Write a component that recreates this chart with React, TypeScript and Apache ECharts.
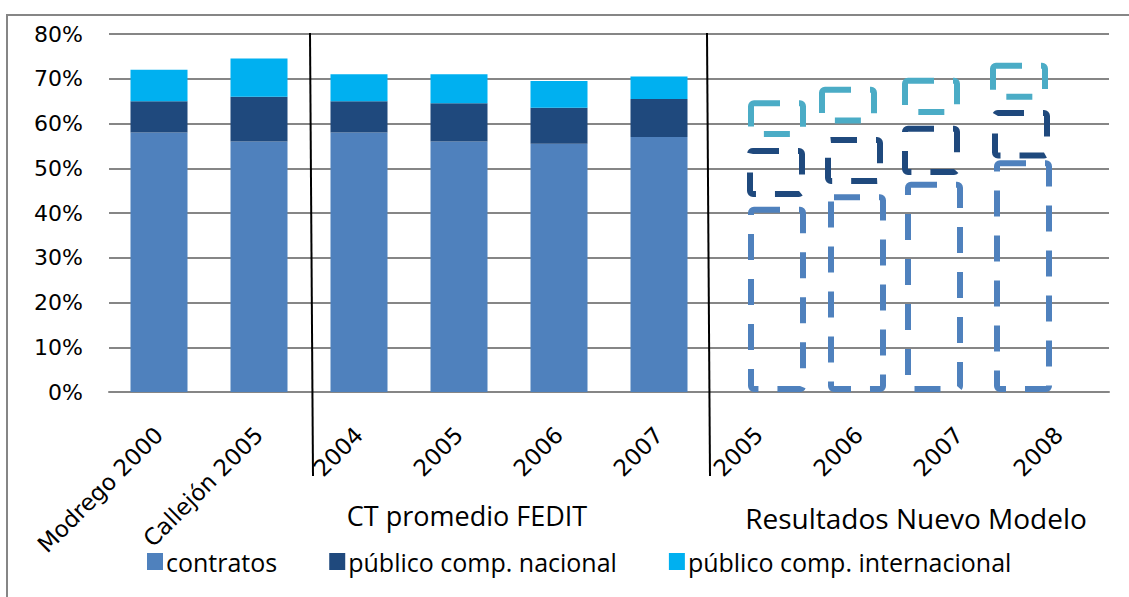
import React, { useEffect, useRef } from "react";
import * as echarts from "echarts";

const categories = [
  "Modrego 2000",
  "Callejón 2005",
  "2004",
  "2005",
  "2006",
  "2007",
  "2005",
  "2006",
  "2007",
  "2008",
];
const seriesNames = ["contratos", "público comp. nacional", "público comp. internacional"];
const contratos = [58, 56, 58, 56, 55.5, 57];
const nacional = [7, 10, 7, 8.5, 8, 8.5];
const internacional = [7, 8.5, 6, 6.5, 6, 5];

// "Resultados Nuevo Modelo" (dashed boxes): category index, bottom %, top %
const nmIndex = [6, 7, 8, 9];
const nmContratosTop = [41.4, 44.2, 47.0, 51.8];
const nmNacionalBottom = [43.6, 46.5, 48.5, 52.2];
const nmNacionalTop = [54.5, 57.0, 59.5, 63.0];
const nmInterBottom = [57.0, 60.0, 61.9, 65.3];
const nmInterTop = [65.2, 68.2, 70.2, 73.6];

const groupLabels = ["CT promedio FEDIT", "Resultados Nuevo Modelo"];

const C_CONTR = "#4F81BD";
const C_NAC = "#1F497D";
const C_INT = "#00B0F0";
const C_INT_DASH = "#4BACC6";
const GRID = "#868686";

// horizontal shift of each hand-drawn dashed box, in fractions of a category band
const shiftContr = [0.18, -0.02, -0.25, -0.36];
const shiftNac = [0.17, -0.05, -0.28, -0.38];
const shiftInt = [0.18, -0.11, -0.28, -0.4];

function dashedSeries(name: string, lows: number[], highs: number[], color: string, shifts: number[]) {
  const data = nmIndex.map((ix, i) => [ix, lows[i], highs[i]]);
  return {
    type: "custom",
    name,
    data,
    z: 5,
    renderItem: (params: any, api: any) => {
      const ix = api.value(0);
      const lo = api.value(1);
      const hi = api.value(2);
      const band = api.size([1, 0])[0];
      const pLo = api.coord([ix, lo]);
      const pHi = api.coord([ix, hi]);
      const lw = 6;
      const w = band * 0.58;
      const cx = pLo[0] + shifts[params.dataIndex] * band;
      return {
        type: "rect",
        shape: {
          x: cx - w / 2 + lw / 2,
          y: pHi[1] + lw / 2,
          width: w - lw,
          height: pLo[1] - pHi[1] - lw,
          r: 3,
        },
        style: {
          fill: "transparent",
          stroke: color,
          lineWidth: lw,
          lineDash: [26, 19],
          lineJoin: "round",
        },
      };
    },
  };
}

export default function App() {
  const ref = useRef<HTMLDivElement>(null);
  useEffect(() => {
    if (!ref.current) return;
    const chart = echarts.init(ref.current, null, { renderer: "svg" });
    const option: any = {
      animation: false,
      backgroundColor: "#ffffff",
      grid: { left: 109, right: 20, top: 34, bottom: 205, containLabel: false },
      legend: {
        data: seriesNames,
        left: 142,
        top: 544,
        icon: "rect",
        itemWidth: 16,
        itemHeight: 17,
        itemGap: 52,
        textStyle: { fontFamily: "Open Sans", fontSize: 25, color: "#000", padding: [0, 0, 0, -2] },
      },
      xAxis: {
        type: "category",
        data: categories,
        axisTick: { show: false },
        axisLine: { show: true, lineStyle: { color: GRID, width: 2 } },
        axisLabel: {
          interval: 0,
          rotate: 45,
          margin: 39,
          fontFamily: "DejaVu Sans",
          fontSize: 23,
          color: "#000",
        },
      },
      yAxis: {
        type: "value",
        min: 0,
        max: 80,
        interval: 10,
        axisLine: { show: false },
        axisTick: { show: false },
        splitLine: { lineStyle: { color: GRID, width: 2 } },
        axisLabel: {
          formatter: "{value}%",
          margin: 26,
          fontFamily: "DejaVu Sans",
          fontSize: 22,
          color: "#000",
        },
      },
      series: [
        { type: "bar", name: seriesNames[0], stack: "t", data: contratos, barWidth: "57%", itemStyle: { color: C_CONTR } },
        { type: "bar", name: seriesNames[1], stack: "t", data: nacional, itemStyle: { color: C_NAC } },
        { type: "bar", name: seriesNames[2], stack: "t", data: internacional, itemStyle: { color: C_INT } },
        dashedSeries("nm contratos", nmIndex.map(() => 0), nmContratosTop, C_CONTR, shiftContr),
        dashedSeries("nm nacional", nmNacionalBottom, nmNacionalTop, C_NAC, shiftNac),
        dashedSeries("nm internacional", nmInterBottom, nmInterTop, C_INT_DASH, shiftInt),
      ],
      graphic: [
        {
          type: "rect",
          shape: { x: 7, y: 15, width: 1300, height: 800 },
          style: { fill: "transparent", stroke: GRID, lineWidth: 2 },
          silent: true,
        },
        {
          type: "line",
          shape: { x1: 310, y1: 33, x2: 313, y2: 476 },
          style: { stroke: "#000", lineWidth: 2 },
          z: 10,
        },
        {
          type: "line",
          shape: { x1: 707, y1: 33, x2: 710, y2: 476 },
          style: { stroke: "#000", lineWidth: 2 },
          z: 10,
        },
        {
          type: "text",
          x: 467,
          y: 515,
          style: {
            text: groupLabels[0],
            fontFamily: "Open Sans",
            fontSize: 27,
            fill: "#000",
            align: "center",
            verticalAlign: "middle",
          },
        },
        {
          type: "text",
          x: 916,
          y: 518,
          style: {
            text: groupLabels[1],
            fontFamily: "Open Sans",
            fontSize: 28,
            fill: "#000",
            align: "center",
            verticalAlign: "middle",
          },
        },
      ],
    };
    chart.setOption(option);
    return () => chart.dispose();
  }, []);
  return (
    <div
      ref={ref}
      style={{ position: "absolute", left: 0, top: 0, width: 1129, height: 597, background: "#fff" }}
    />
  );
}
